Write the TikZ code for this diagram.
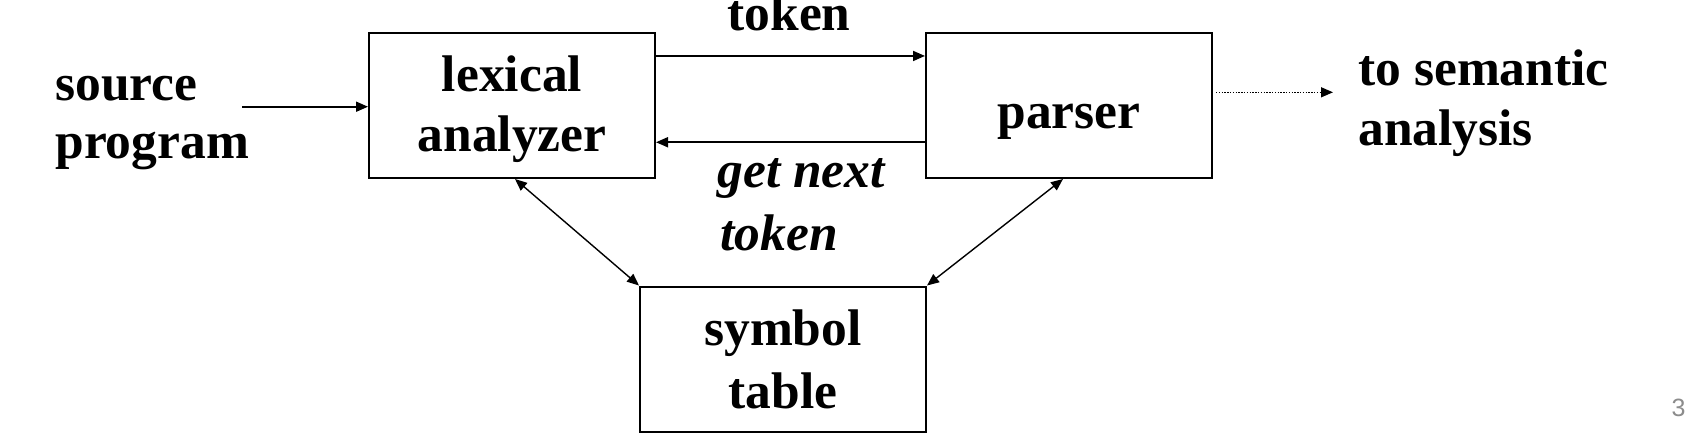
\documentclass[tikz,border=0pt]{standalone}
\usepackage{fontspec}
\setmainfont{Liberation Serif}
\newfontfamily\pagenumfont{Liberation Sans}
\usetikzlibrary{arrows.meta,calc}
\begin{document}
\begin{tikzpicture}[x=0.5pt,y=-0.5pt,
  boxnode/.style={draw=black,line width=1pt,minimum width=143pt,minimum height=72.5pt,inner sep=0pt},
  txt/.style={font=\fontsize{25.75pt}{30pt}\selectfont\bfseries,inner sep=0pt,anchor=base},
  txtl/.style={txt,anchor=base west},
  itxt/.style={txtl,font=\fontsize{25.75pt}{30pt}\selectfont\bfseries\itshape},
  conn/.style={line width=0.9pt,-{Triangle[length=6pt,width=5pt]}},
  dconn/.style={line width=0.7pt,{Triangle[length=6pt,width=5pt]}-{Triangle[length=6pt,width=5pt]}},
  dotconn/.style={line width=0.7pt,dash pattern=on 0.7pt off 0.7pt,-{Triangle[length=6pt,width=5pt]}}]
\useasboundingbox (0,0) rectangle (1687,441);
% boxes
\node[boxnode] (lex) at (512,105.5) {};
\node[boxnode] (par) at (1069,105.5) {};
\node[boxnode] (sym) at (783,359) {};
% box texts
\node[txt] (lex1) at (512,91.7) {lexical};
\node[txt] (lex2) at (512,151.7) {analyzer};
\node[txt] (par1) at (1069,128) {parser};
\node[txt] (sym1) at (783,345) {symbol};
\node[txt] (sym2) at (783,408) {table};
% free texts
\node[txtl] (src1) at (55,100.5) {source};
\node[txtl] (src2) at (55,158.5) {program};
\node[txtl] (sem1) at (1358,85) {to semantic};
\node[txtl] (sem2) at (1358,145) {analysis};
\node[txt] (tok) at (789,30.7) {token};
\node[itxt] (gnt1) at (717,187) {get next};
\node[itxt] (gnt2) at (720,250) {token};
\node[font=\pagenumfont\fontsize{12.5pt}{14pt}\selectfont,text=black!45,inner sep=0pt,anchor=base east] (pg) at (1686,416.5) {3};
% connectors
\coordinate (srcend) at (242,106.7);
\coordinate (semend) at (1333,92.3);
\draw[conn] (srcend) -- (srcend -| lex.west);
\draw[conn] ($(lex.north east)!0.163!(lex.south east)$) -- ($(par.north west)!0.163!(par.south west)$);
\draw[conn] ($(par.north west)!0.75!(par.south west)$) -- ($(lex.north east)!0.75!(lex.south east)$);
\draw[dotconn] ([xshift=1.5pt]par.east |- semend) -- (semend);
\draw[dconn] ([xshift=1.5pt]lex.south) -- (sym.north west);
\draw[dconn] ([xshift=-3pt]par.south) -- (sym.north east);
\end{tikzpicture}
\end{document}
